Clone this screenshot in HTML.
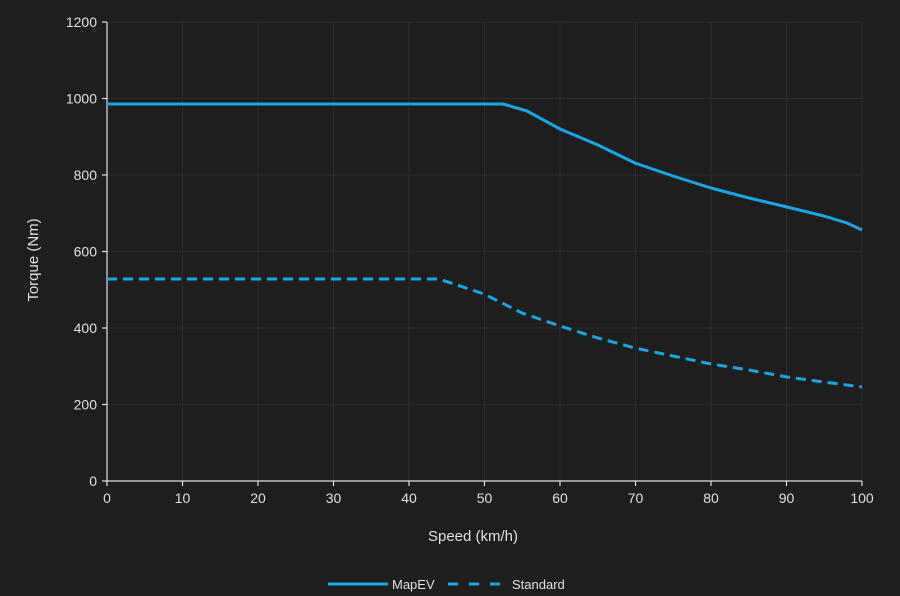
<!DOCTYPE html><html><head><style>body{margin:0;background:#1e1e1e}svg{display:block;font-family:"Liberation Sans",sans-serif}</style></head><body>
<svg width="900" height="596" viewBox="0 0 900 596">
<rect width="900" height="596" fill="#1e1e1e"/>
<g stroke="#2c2c2c" stroke-width="1">
<line x1="107" x2="862" y1="22" y2="22"/><line x1="107" x2="862" y1="98.5" y2="98.5"/><line x1="107" x2="862" y1="175" y2="175"/><line x1="107" x2="862" y1="251.5" y2="251.5"/><line x1="107" x2="862" y1="328" y2="328"/><line x1="107" x2="862" y1="404.5" y2="404.5"/>
<line x1="182.5" x2="182.5" y1="22" y2="481"/><line x1="258" x2="258" y1="22" y2="481"/><line x1="333.5" x2="333.5" y1="22" y2="481"/><line x1="409" x2="409" y1="22" y2="481"/><line x1="484.5" x2="484.5" y1="22" y2="481"/><line x1="560" x2="560" y1="22" y2="481"/><line x1="635.5" x2="635.5" y1="22" y2="481"/><line x1="711" x2="711" y1="22" y2="481"/><line x1="786.5" x2="786.5" y1="22" y2="481"/><line x1="862" x2="862" y1="22" y2="481"/>
</g>
<g stroke="#e0e0e0" stroke-width="1.2">
<line x1="107" x2="862" y1="481" y2="481"/><line x1="107" x2="107" y1="22" y2="481"/>
<line x1="107" x2="107" y1="481" y2="486"/><line x1="182.5" x2="182.5" y1="481" y2="486"/><line x1="258" x2="258" y1="481" y2="486"/><line x1="333.5" x2="333.5" y1="481" y2="486"/><line x1="409" x2="409" y1="481" y2="486"/><line x1="484.5" x2="484.5" y1="481" y2="486"/><line x1="560" x2="560" y1="481" y2="486"/><line x1="635.5" x2="635.5" y1="481" y2="486"/><line x1="711" x2="711" y1="481" y2="486"/><line x1="786.5" x2="786.5" y1="481" y2="486"/><line x1="862" x2="862" y1="481" y2="486"/>
<line x1="102" x2="107" y1="22" y2="22"/><line x1="102" x2="107" y1="98.5" y2="98.5"/><line x1="102" x2="107" y1="175" y2="175"/><line x1="102" x2="107" y1="251.5" y2="251.5"/><line x1="102" x2="107" y1="328" y2="328"/><line x1="102" x2="107" y1="404.5" y2="404.5"/><line x1="102" x2="107" y1="481" y2="481"/>
</g>
<g fill="#e0e0e0" font-size="14" text-anchor="middle">
<text x="107" y="503">0</text><text x="182.5" y="503">10</text><text x="258" y="503">20</text><text x="333.5" y="503">30</text><text x="409" y="503">40</text><text x="484.5" y="503">50</text><text x="560" y="503">60</text><text x="635.5" y="503">70</text><text x="711" y="503">80</text><text x="786.5" y="503">90</text><text x="862" y="503">100</text>
</g>
<g fill="#e0e0e0" font-size="14" text-anchor="end">
<text x="97" y="27">1200</text><text x="97" y="103.5">1000</text><text x="97" y="180">800</text><text x="97" y="256.5">600</text><text x="97" y="333">400</text><text x="97" y="409.5">200</text><text x="97" y="486">0</text>
</g>
<text x="473" y="541" fill="#e0e0e0" font-size="15" text-anchor="middle">Speed (km/h)</text>
<text transform="translate(38,260) rotate(-90)" fill="#e0e0e0" font-size="15" text-anchor="middle">Torque (Nm)</text>
<polyline fill="none" stroke="#13a8e8" stroke-width="3" stroke-linejoin="round" points="107,104 503,104 527,111 560,129 598,145 635,163 673,176 711,188 749,198 787,207 824,216 847,223 862,230"/>
<polyline fill="none" stroke="#13a8e8" stroke-width="3" stroke-dasharray="10,6" points="107,279 439,279 484,294 522,313 560,326 598,338 635,348 673,356 711,364 749,370 787,377 824,382 862,387"/>
<line x1="328" x2="388" y1="584" y2="584" stroke="#13a8e8" stroke-width="3"/>
<text x="392" y="589" fill="#e0e0e0" font-size="13">MapEV</text>
<line x1="448" x2="505" y1="584" y2="584" stroke="#13a8e8" stroke-width="3" stroke-dasharray="10,11"/>
<text x="512" y="589" fill="#e0e0e0" font-size="13">Standard</text>
</svg></body></html>
